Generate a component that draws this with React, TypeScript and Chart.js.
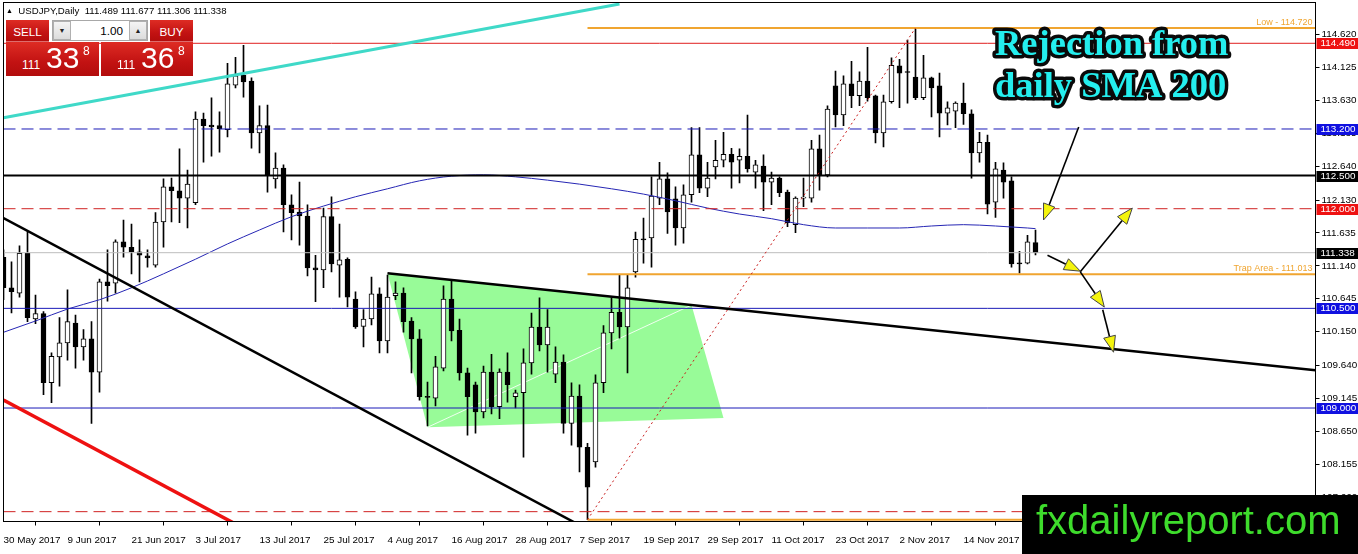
import React, { useEffect, useRef } from 'react';
import { Chart, registerables } from 'chart.js';

Chart.register(...registerables);

// ---------------- data ----------------
const X_TICK_LABELS = ['30 May 2017', '9 Jun 2017', '21 Jun 2017', '3 Jul 2017', '13 Jul 2017', '25 Jul 2017', '4 Aug 2017', '16 Aug 2017', '28 Aug 2017', '7 Sep 2017', '19 Sep 2017', '29 Sep 2017', '11 Oct 2017', '23 Oct 2017', '2 Nov 2017', '14 Nov 2017', '24 Nov 2017'];
const BARS_PER_LABEL = 8;
const LAST_SLOT = 164;

const OPEN = [111.27, 110.81, 110.73, 111.33, 110.34, 110.42, 109.38, 109.77, 109.98, 110.28,
  109.92, 110.04, 109.54, 110.90, 110.88, 111.50, 111.42, 111.35, 111.29, 111.15,
  111.80, 112.33, 112.27, 112.16, 112.09, 113.35, 113.26, 113.25, 113.19, 113.86,
  114.01, 113.92, 113.14, 113.25, 112.45, 112.61, 112.06, 111.95, 111.89, 111.11,
  111.08, 111.88, 111.15, 111.24, 110.64, 110.23, 110.34, 110.72, 110.01, 110.69,
  110.73, 110.31, 110.04, 109.17, 109.15, 109.60, 110.64, 110.17, 109.53, 109.35,
  108.94, 109.54, 109.02, 109.54, 109.17, 109.23, 109.68, 110.22, 109.95, 109.51,
  109.69, 108.77, 109.18, 108.41, 108.19, 109.38, 110.13, 110.44, 110.22, 111.05,
  111.54, 111.56, 112.16, 112.45, 112.15, 111.71, 112.21, 112.81, 112.31, 112.63,
  112.73, 112.82, 112.73, 112.79, 112.55, 112.64, 112.40, 112.46, 112.25, 111.76,
  112.16, 112.16, 112.90, 112.51, 113.85, 113.41, 113.88, 113.70, 113.92, 113.70,
  113.14, 113.61, 114.15, 114.06, 113.98, 113.67, 113.97, 113.85, 113.44, 113.47,
  113.59, 113.43, 112.84, 113.00, 112.10, 112.58, 112.42, 111.18, 111.18, 111.489];

const HIGH = [111.38, 111.20, 111.44, 111.65, 110.70, 110.45, 109.83, 110.36, 110.78, 110.40,
  110.18, 110.30, 110.94, 111.38, 111.53, 111.83, 111.77, 111.53, 111.38, 111.94,
  112.45, 112.46, 112.90, 112.58, 113.46, 113.44, 113.67, 113.46, 114.19, 114.28,
  114.46, 113.97, 113.55, 113.56, 112.84, 112.66, 112.21, 112.40, 112.06, 111.30,
  112.01, 112.18, 111.77, 111.26, 110.75, 110.48, 110.97, 110.81, 111.00, 110.90,
  110.81, 110.36, 110.18, 109.39, 109.78, 110.84, 110.93, 110.34, 109.60, 109.39,
  109.63, 109.81, 109.59, 109.83, 109.27, 109.89, 110.43, 110.66, 110.48, 109.92,
  109.80, 109.38, 109.35, 108.47, 109.50, 110.24, 110.66, 111.00, 111.00, 111.65,
  111.86, 112.48, 112.70, 112.54, 112.33, 112.36, 113.22, 113.22, 112.70, 113.03,
  113.15, 112.91, 112.90, 113.41, 112.73, 112.81, 112.55, 112.48, 112.28, 112.18,
  112.46, 113.03, 113.11, 113.55, 114.07, 114.00, 114.22, 114.06, 114.43, 113.71,
  113.71, 114.27, 114.25, 114.54, 114.72, 114.31, 113.98, 114.04, 113.61, 113.61,
  113.89, 113.49, 113.15, 113.11, 112.70, 112.69, 112.48, 111.36, 111.60, 111.677];

const LOW = [110.63, 110.43, 110.67, 110.30, 110.27, 109.20, 109.08, 109.33, 109.72, 109.60,
  109.72, 108.77, 109.24, 110.61, 110.73, 111.27, 111.02, 110.90, 111.12, 111.12,
  111.42, 111.80, 111.79, 111.71, 112.06, 112.70, 112.79, 112.85, 113.08, 113.82,
  113.68, 112.91, 112.84, 112.25, 112.31, 111.65, 111.53, 111.45, 110.99, 110.60,
  110.81, 111.05, 110.67, 110.52, 110.20, 109.92, 110.25, 109.83, 109.83, 110.63,
  110.14, 109.53, 109.12, 108.73, 109.03, 109.56, 110.01, 109.42, 108.59, 108.62,
  108.85, 108.91, 108.84, 109.09, 109.00, 108.26, 109.51, 109.86, 109.54, 109.38,
  108.62, 108.44, 108.04, 107.32, 108.11, 109.23, 109.89, 110.05, 109.53, 110.97,
  111.18, 111.12, 112.06, 111.63, 111.45, 111.48, 112.10, 112.24, 112.18, 112.45,
  112.63, 112.31, 112.39, 112.55, 112.31, 111.97, 112.06, 112.18, 111.73, 111.64,
  112.03, 112.10, 112.28, 112.48, 113.23, 113.25, 113.52, 113.55, 113.62, 112.99,
  112.93, 113.59, 113.52, 113.59, 113.64, 113.64, 113.38, 113.08, 113.26, 113.22,
  113.27, 112.46, 112.70, 111.92, 111.87, 112.16, 111.12, 111.03, 111.17, 111.306];

const CLOSE = [110.81, 110.75, 111.33, 110.36, 110.42, 109.38, 109.78, 109.98, 110.30, 109.92,
  110.04, 109.54, 110.90, 110.84, 111.50, 111.42, 111.35, 111.30, 111.26, 111.80,
  112.33, 112.27, 112.16, 112.37, 113.35, 113.25, 113.23, 113.20, 113.88, 114.00,
  113.91, 113.14, 113.25, 112.51, 112.61, 112.06, 111.94, 111.89, 111.11, 111.08,
  111.88, 111.17, 111.23, 110.67, 110.22, 110.34, 110.72, 110.01, 110.67, 110.73,
  110.30, 110.04, 109.17, 109.16, 109.62, 110.64, 110.16, 109.53, 109.17, 108.94,
  109.54, 109.02, 109.54, 109.35, 109.23, 109.68, 110.22, 109.95, 110.22, 109.69,
  108.77, 109.18, 108.41, 107.81, 109.38, 110.13, 110.44, 110.22, 110.81, 111.54,
  111.53, 112.19, 112.45, 111.95, 111.71, 112.21, 112.81, 112.31, 112.46, 112.73,
  112.82, 112.70, 112.79, 112.60, 112.66, 112.40, 112.46, 112.24, 111.79, 112.16,
  112.17, 112.90, 112.51, 113.50, 113.41, 113.88, 113.70, 113.92, 113.67, 113.14,
  113.61, 114.16, 114.04, 114.05, 113.67, 113.97, 113.82, 113.44, 113.52, 113.59,
  113.43, 112.84, 113.00, 112.07, 112.60, 112.40, 111.17, 111.17, 111.50, 111.338];

const SMA_INDEX = [0, 4, 8, 12, 16, 20, 24, 28, 32, 36, 40, 44, 48, 52, 56, 60, 64, 68, 72, 76, 80, 84, 88, 92, 96, 100, 104, 108, 112, 116, 120, 124, 128, 129];
const SMA_VALUE = [110.14, 110.31, 110.49, 110.63, 110.81, 111.02, 111.24, 111.47, 111.68, 111.88, 112.04, 112.18, 112.30, 112.42, 112.49, 112.51, 112.48, 112.43, 112.37, 112.30, 112.22, 112.12, 112.01, 111.92, 111.85, 111.76, 111.71, 111.71, 111.71, 111.74, 111.76, 111.74, 111.71, 111.70];

const Y_TICKS = [114.62, 114.125, 113.63, 113.135, 112.64, 112.13, 111.635, 111.14, 110.645, 110.15, 109.64, 109.145, 108.65, 108.155, 107.66];
const Y_MIN = 107.292;
const Y_MAX = 115.104;

// horizontal levels
const LEVEL_PRICES = [114.49, 113.2, 112.5, 112.0, 111.338, 110.5, 109.0, 107.44];
// trend lines (bar index, price)
const TREND_X0 = [0, 0, 0, 48, 73];
const TREND_Y0 = [113.37, 111.86, 109.12, 111.03, 107.32];
const TREND_X1 = [77, 75, 30, 164, 114];
const TREND_Y1 = [115.08, 107.045, 107.19, 109.57, 114.72];
// orange range lines
const RANGE_START = 73;
const RANGE_PRICES = [114.72, 111.013, 107.32];
const RANGE_TEXTS = ['Low - 114.720', 'Trap Area - 111.013', ''];
// green wedge
const WEDGE_X = [48, 53, 90, 86];
const WEDGE_Y = [111.03, 108.71, 108.85, 110.55];
// arrows
const ARROW_X0 = [134.4, 130.5, 134.6, 134.6, 137.4];
const ARROW_Y0 = [113.23, 111.30, 111.05, 111.05, 110.48];
const ARROW_X1 = [130.0, 134.6, 141.1, 137.6, 138.75];
const ARROW_Y1 = [111.83, 111.06, 112.01, 110.52, 109.84];

// ---------------- styles ----------------
const LEVEL_COLORS = ['#e01e1e', '#1a1ab8', '#000000', '#d02222', '#bdbdbd', '#1a1ab8', '#1a1ab8', '#d02222'];
const LEVEL_WIDTHS = [1, 1, 2, 1, 1, 1, 1, 1];
const LEVEL_DASHES = [[], [12, 6], [], [12, 6], [], [], [], [12, 6]];
const TAG_COLORS = ['#ee1111', '#1010e0', '#000000', '#ee1111', '#000000', '#1010e0', '#1010e0', ''];
const TREND_COLORS = ['#3fd9c8', '#000000', '#ee1111', '#000000', '#c81e1e'];
const TREND_WIDTHS = [3, 2.5, 3.5, 2.5, 1];
const TREND_DASHES = [[], [], [], [], [2, 3]];
const ORANGE = '#f0a530';

function fontAvailable(name: string): boolean {
  try {
    const c = document.createElement('canvas').getContext('2d');
    if (!c) return false;
    const s = 'abcdefghij 0123456789 MWmw';
    c.font = '40px monospace';
    const a = c.measureText(s).width;
    c.font = `40px "${name}", monospace`;
    const b = c.measureText(s).width;
    c.font = '40px serif';
    const a2 = c.measureText(s).width;
    c.font = `40px "${name}", serif`;
    const b2 = c.measureText(s).width;
    return a !== b || a2 !== b2;
  } catch (e) {
    return false;
  }
}
const HAS_NARROW = typeof document !== 'undefined' && fontAvailable('Liberation Sans Narrow');
const UI_FAMILY = HAS_NARROW ? '"Liberation Sans Narrow", "Liberation Sans", sans-serif' : '"Liberation Sans", sans-serif';
const UI_K = HAS_NARROW ? 1 : 0.9;

function drawArrow(ctx: CanvasRenderingContext2D, x0: number, y0: number, x1: number, y1: number) {
  const ang = Math.atan2(y1 - y0, x1 - x0);
  const len = 16;
  const half = 6;
  const bx = x1 - Math.cos(ang) * len;
  const by = y1 - Math.sin(ang) * len;
  ctx.strokeStyle = '#000';
  ctx.lineWidth = 1.6;
  ctx.beginPath();
  ctx.moveTo(x0, y0);
  ctx.lineTo(bx, by);
  ctx.stroke();
  ctx.beginPath();
  ctx.moveTo(x1, y1);
  ctx.lineTo(bx + Math.sin(ang) * half, by - Math.cos(ang) * half);
  ctx.lineTo(bx - Math.sin(ang) * half, by + Math.cos(ang) * half);
  ctx.closePath();
  ctx.fillStyle = '#f4f40c';
  ctx.fill();
  ctx.lineWidth = 1;
  ctx.strokeStyle = '#444';
  ctx.stroke();
}

const overlayPlugin = {
  id: 'mt4Overlay',
  beforeDatasetsDraw(chart: any) {
    const { ctx, chartArea: ca, scales } = chart;
    const xs = scales.x;
    const ys = scales.y;
    ctx.save();
    ctx.beginPath();
    ctx.rect(ca.left, ca.top, ca.right - ca.left, ca.bottom - ca.top);
    ctx.clip();
    ctx.fillStyle = '#98fb98';
    ctx.beginPath();
    WEDGE_X.forEach((v, k) => {
      const px = xs.getPixelForValue(v);
      const py = ys.getPixelForValue(WEDGE_Y[k]);
      if (k === 0) ctx.moveTo(px, py);
      else ctx.lineTo(px, py);
    });
    ctx.closePath();
    ctx.fill();
    ctx.strokeStyle = 'rgba(255,255,255,0.85)';
    ctx.lineWidth = 1;
    ctx.beginPath();
    ctx.moveTo(xs.getPixelForValue(WEDGE_X[1]), ys.getPixelForValue(WEDGE_Y[1]));
    ctx.lineTo(xs.getPixelForValue(WEDGE_X[3]), ys.getPixelForValue(WEDGE_Y[3]));
    ctx.stroke();
    ctx.restore();
  },
  afterDatasetsDraw(chart: any) {
    const { ctx, chartArea: ca, scales } = chart;
    const xs = scales.x;
    const ys = scales.y;
    ctx.save();
    // orange range labels
    ctx.font = `${10 * UI_K}px ${UI_FAMILY}`;
    ctx.fillStyle = ORANGE;
    ctx.textAlign = 'right';
    ctx.textBaseline = 'bottom';
    RANGE_PRICES.forEach((p, k) => {
      if (!RANGE_TEXTS[k]) return;
      ctx.fillText(RANGE_TEXTS[k], ca.right - 3, ys.getPixelForValue(p) - 1);
    });
    // arrows
    ARROW_X0.forEach((v, k) => {
      drawArrow(ctx, xs.getPixelForValue(v), ys.getPixelForValue(ARROW_Y0[k]), xs.getPixelForValue(ARROW_X1[k]), ys.getPixelForValue(ARROW_Y1[k]));
    });
    // headline
    ctx.font = 'bold 36.5px "Liberation Serif", serif';
    ctx.textAlign = 'left';
    ctx.textBaseline = 'alphabetic';
    ctx.lineJoin = 'round';
    const lines = ['Rejection from', 'daily SMA 200'];
    const bases = [55, 97];
    lines.forEach((t, k) => {
      ctx.lineWidth = 7;
      ctx.strokeStyle = '#0a0a0a';
      ctx.strokeText(t, 995, bases[k]);
      ctx.fillStyle = '#24eeee';
      ctx.fillText(t, 995, bases[k]);
    });
    ctx.restore();
  },
  afterDraw(chart: any) {
    const { ctx, chartArea: ca, scales } = chart;
    const ys = scales.y;
    ctx.save();
    ctx.strokeStyle = '#000';
    ctx.lineWidth = 1;
    ctx.strokeRect(ca.left, ca.top, ca.right - ca.left, ca.bottom - ca.top);
    // axis tags
    ctx.font = `${11 * UI_K}px ${UI_FAMILY}`;
    ctx.textAlign = 'left';
    ctx.textBaseline = 'middle';
    LEVEL_PRICES.forEach((p, k) => {
      if (!TAG_COLORS[k]) return;
      const py = Math.round(ys.getPixelForValue(p));
      ctx.fillStyle = TAG_COLORS[k];
      ctx.fillRect(ca.right + 1, py - 5, 1358 - ca.right, 11);
      ctx.fillStyle = '#ffffff';
      ctx.fillText(p.toFixed(3), ca.right + 5, py + 0.5);
    });
    // brand box
    ctx.fillStyle = '#000';
    ctx.fillRect(1022, 495, 336, 59);
    ctx.fillStyle = '#3edc2c';
    ctx.font = '40px "Liberation Sans", sans-serif';
    ctx.textBaseline = 'alphabetic';
    ctx.fillText('fxdailyreport.com', 1036, 534);
    ctx.restore();
  },
};

function buildConfig(): any {
  const wickData = OPEN.map((_, i) => ({ x: i, y: [LOW[i], HIGH[i]] }));
  const bodyData = OPEN.map((o, i) => ({ x: i, y: [Math.min(o, CLOSE[i]), Math.max(o, CLOSE[i])] }));
  const bodyColors = OPEN.map((o, i) => (CLOSE[i] >= o ? '#ffffff' : '#000000'));

  const datasets: any[] = [
    { type: 'bar', label: 'wick', data: wickData, backgroundColor: '#000', borderWidth: 0, barThickness: 1, grouped: false, order: 20 },
    { type: 'bar', label: 'body', data: bodyData, backgroundColor: bodyColors, borderColor: '#000', borderWidth: 1, borderSkipped: false, barThickness: 5, grouped: false, minBarLength: 1, order: 19 },
    { type: 'line', label: 'SMA 200', data: SMA_INDEX.map((x, k) => ({ x, y: SMA_VALUE[k] })), borderColor: '#2626b4', borderWidth: 1, pointRadius: 0, cubicInterpolationMode: 'monotone', order: 5 },
  ];
  LEVEL_PRICES.forEach((p, k) => {
    datasets.push({ type: 'line', label: 'level ' + p, data: [{ x: 0, y: p }, { x: LAST_SLOT, y: p }], borderColor: LEVEL_COLORS[k], borderWidth: LEVEL_WIDTHS[k], borderDash: LEVEL_DASHES[k], pointRadius: 0, order: 4 });
  });
  RANGE_PRICES.forEach((p) => {
    datasets.push({ type: 'line', label: 'range ' + p, data: [{ x: RANGE_START, y: p }, { x: LAST_SLOT, y: p }], borderColor: ORANGE, borderWidth: 2, pointRadius: 0, order: 3 });
  });
  TREND_X0.forEach((x0, k) => {
    datasets.push({ type: 'line', label: 'trend ' + k, data: [{ x: x0, y: TREND_Y0[k] }, { x: TREND_X1[k], y: TREND_Y1[k] }], borderColor: TREND_COLORS[k], borderWidth: TREND_WIDTHS[k], borderDash: TREND_DASHES[k], pointRadius: 0, order: 2 });
  });

  const tickFont = { family: UI_FAMILY, size: 11 * UI_K };
  return {
    type: 'bar',
    data: { datasets },
    options: {
      animation: false,
      responsive: false,
      devicePixelRatio: 1,
      events: [],
      layout: { padding: { left: 3.5, top: 2.5, right: 0, bottom: 0 } },
      plugins: { legend: { display: false }, tooltip: { enabled: false } },
      scales: {
        x: {
          type: 'linear',
          min: 0,
          max: LAST_SLOT,
          offset: false,
          grid: { display: true, drawOnChartArea: false, drawTicks: true, tickLength: 4, color: '#000', lineWidth: 1 },
          border: { display: true, color: '#000', width: 1 },
          ticks: {
            autoSkip: false, maxRotation: 0, minRotation: 0, align: 'start', padding: 9, color: '#000', font: tickFont,
            callback: (v: number) => X_TICK_LABELS[Math.round(v / BARS_PER_LABEL)] ?? '',
          },
          afterBuildTicks: (s: any) => { s.ticks = X_TICK_LABELS.map((_, k) => ({ value: k * BARS_PER_LABEL })); },
          afterFit: (s: any) => { s.height = 32.5; s.paddingLeft = 0; s.paddingRight = 0; },
        },
        y: {
          type: 'linear',
          position: 'right',
          min: Y_MIN,
          max: Y_MAX,
          grid: { display: true, drawOnChartArea: false, drawTicks: true, tickLength: 4, color: '#000', lineWidth: 1 },
          border: { display: true, color: '#000', width: 1 },
          ticks: { padding: 2, color: '#000', font: tickFont, callback: (v: number) => Number(v).toFixed(3) },
          afterBuildTicks: (s: any) => { s.ticks = Y_TICKS.map((v) => ({ value: v })); },
          afterFit: (s: any) => { s.width = 42.5; s.paddingTop = 0; s.paddingBottom = 0; },
        },
      },
    },
    plugins: [overlayPlugin],
  };
}

const RED_GRAD = 'linear-gradient(#de2c24, #c21212 60%, #b20c0c)';

function PriceBox({ left, width, big }: { left: number; width: number; big: string }) {
  return (
    <div style={{ position: 'absolute', left, top: 42, width, height: 34, background: RED_GRAD, color: '#fff', fontFamily: '"Liberation Sans", sans-serif' }}>
      <span style={{ position: 'absolute', left: 16, top: 17, fontSize: 12, lineHeight: '12px' }}>111</span>
      <span style={{ position: 'absolute', left: 40, top: 1, fontSize: 30, lineHeight: '30px' }}>{big}</span>
      <span style={{ position: 'absolute', left: 77, top: 3, fontSize: 12, lineHeight: '12px' }}>8</span>
    </div>
  );
}

function TradePanel() {
  const btn: any = { position: 'absolute', top: 20, height: 22, background: RED_GRAD, color: '#fff', display: 'flex', alignItems: 'center', justifyContent: 'center', fontFamily: UI_FAMILY, fontSize: 13 * UI_K, boxShadow: 'inset 0 -1px 0 rgba(255,190,190,0.55)' };
  const small: any = { position: 'absolute', top: 21, width: 18, height: 19, background: 'linear-gradient(#f4f4f4, #dcdcdc)', border: '1px solid #b0b0b0', display: 'flex', alignItems: 'center', justifyContent: 'center', fontSize: 7, color: '#222', boxSizing: 'border-box' };
  return (
    <div style={{ position: 'absolute', left: 0, top: 0, width: 200, height: 80, pointerEvents: 'none' }}>
      <div style={{ position: 'absolute', left: 6, top: 4, fontFamily: UI_FAMILY, fontSize: 11.5 * 0.84 / (HAS_NARROW ? 0.84 : 1), lineHeight: '14px', color: '#000', whiteSpace: 'pre' }}>
        <span style={{ fontSize: 7, position: 'relative', top: -1 }}>{'\u25B2'}</span>{'  USDJPY,Daily  111.489 111.677 111.306 111.338'}
      </div>
      <div style={{ ...btn, left: 6, width: 43 }}>SELL</div>
      <div style={{ position: 'absolute', left: 52, top: 20, width: 96, height: 21, background: '#fff', border: '1px solid #a8a8a8', boxSizing: 'border-box' }} />
      <div style={{ ...small, left: 53 }}>{'\u25BC'}</div>
      <div style={{ position: 'absolute', left: 72, top: 21, width: 56, height: 19, fontFamily: UI_FAMILY, fontSize: 13 * UI_K, lineHeight: '19px', textAlign: 'right', paddingRight: 5, boxSizing: 'border-box', color: '#000' }}>1.00</div>
      <div style={{ ...small, left: 129 }}>{'\u25B2'}</div>
      <div style={{ ...btn, left: 150, width: 43 }}>BUY</div>
      <PriceBox left={6} width={93} big="33" />
      <PriceBox left={101} width={92} big="36" />
    </div>
  );
}

export default function App() {
  const ref = useRef<HTMLCanvasElement | null>(null);
  useEffect(() => {
    document.body.style.margin = '0';
    const chart = new Chart(ref.current as HTMLCanvasElement, buildConfig());
    return () => chart.destroy();
  }, []);
  return (
    <div style={{ position: 'relative', width: 1358, height: 554, overflow: 'hidden', background: '#fff' }}>
      <canvas ref={ref} width={1358} height={554} style={{ position: 'absolute', left: 0, top: 0, width: 1358, height: 554 }} />
      <TradePanel />
    </div>
  );
}
